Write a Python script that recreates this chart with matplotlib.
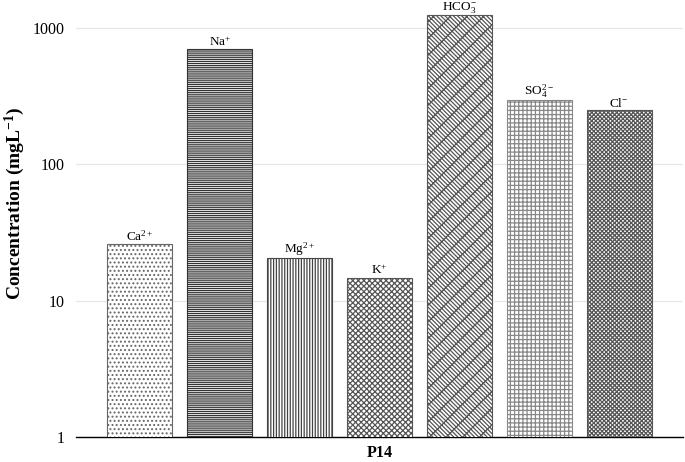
import matplotlib.pyplot as plt
import numpy as np

# ion concentrations at site P14 (mg/L)
ions = ["Ca$^{2+}$", "Na$^{+}$", "Mg$^{2+}$", "K$^{+}$",
        "HCO$_3^{-}$", "SO$_4^{2-}$", "Cl$^{-}$"]
values = [26, 695, 20.5, 14.7, 1240, 296, 250]
hatches = ["....", "--------", "||||||", "xxxxxx", "\\\\\\\\\\\\xx", "++++", "xxxxxxxx"]
edges = ['#666666', '#333333', '#444444', '#555555', '#555555', '#888888', '#555555']
site = "P14"

plt.rcParams.update({
    'font.family': ['Liberation Serif', 'DejaVu Serif'],
    'mathtext.fontset': 'custom',
    'mathtext.rm': 'Liberation Serif',
    'mathtext.it': 'Liberation Serif',
    'mathtext.bf': 'Liberation Serif:bold',
    'hatch.linewidth': 0.9,
})

fig = plt.figure(figsize=(6.85, 4.62), dpi=100)
ax = fig.add_axes([0.111, 0.054, 0.886, 0.946])

x = np.arange(len(values))
bars = ax.bar(x, values, width=0.8125, bottom=0, color='white',
              edgecolor=edges, linewidth=0.8, zorder=3)
for b, h in zip(bars, hatches):
    b.set_hatch(h)

for xi, v, lab in zip(x, values, ions):
    ax.annotate(lab, (xi, v), xytext=(0, 0.3), textcoords='offset points',
                ha='center', va='bottom', fontsize=9.5)

ax.set_yscale('log')
ax.set_ylim(1, 1600)
ax.set_xlim(-0.8, 6.8)
ax.set_yticks([1, 10, 100, 1000])
ax.set_yticklabels(['1', '10', '100', '1000'], fontsize=11.5)
ax.minorticks_off()
ax.set_xticks([3])
ax.set_xticklabels([site], fontsize=11.5, fontweight='bold')
ax.tick_params(axis='y', length=0, pad=8)
ax.tick_params(axis='x', length=0, pad=6)
ax.grid(axis='y', color='#e6e6e6', linewidth=0.8, zorder=0)
for s in ['top', 'right', 'left']:
    ax.spines[s].set_visible(False)
ax.spines['bottom'].set_color('black')
ax.spines['bottom'].set_linewidth(1)

fig.text(0.022, 0.56, 'Concentration (mgL$^{\\mathbf{-1}}$)', fontsize=14,
         fontweight='bold', rotation=90, ha='center', va='center')

fig.savefig('out.png', dpi=100)
